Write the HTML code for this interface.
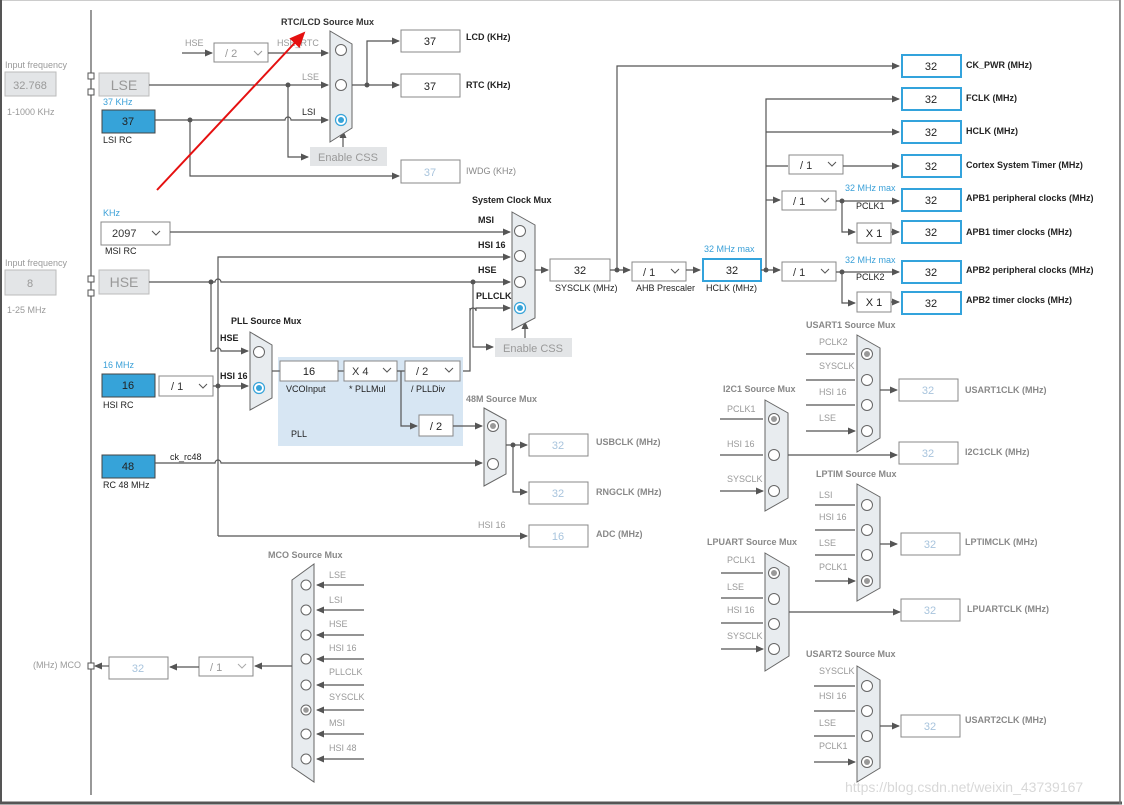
<!DOCTYPE html>
<html><head><meta charset="utf-8"><style>
html,body{margin:0;padding:0;background:#fff;}
svg{display:block;font-family:"Liberation Sans",Arial,sans-serif;}
.l{stroke:#555;stroke-width:1.2;fill:none}
.la{stroke:#555;stroke-width:1.2;fill:none;marker-end:url(#a)}
.lg{stroke:#888;stroke-width:1.2;fill:none;marker-end:url(#a)}
.t{font-size:9px;fill:#222;font-weight:bold}
.tg{font-size:9px;fill:#888;font-weight:bold}
.tn{font-size:9px;fill:#999}
.tb{font-size:9px;fill:#3aa0d8}
.box{fill:#fff;stroke:#888;stroke-width:1}
.bb{fill:#fff;stroke:#33a3dc;stroke-width:2}
.dis{fill:#e3e5e7;stroke:#bbb;stroke-width:1}
.mux{fill:#e8ecef;stroke:#666;stroke-width:1}
.c{fill:#fff;stroke:#666;stroke-width:1}
.num{font-size:11px;fill:#222;text-anchor:middle}
.numg{font-size:11px;fill:#a8c4dd;text-anchor:middle}
.dd{font-size:11px;fill:#333}
.dot{fill:#555}
</style></head><body>
<svg width="1124" height="805" viewBox="0 0 1124 805">
<defs>
<marker id="a" markerWidth="8" markerHeight="8" refX="7" refY="4" orient="auto" markerUnits="userSpaceOnUse"><path d="M0,0.5 L8,4 L0,7.5 z" fill="#555"/></marker>
<marker id="r" markerWidth="16" markerHeight="14" refX="14" refY="7" orient="auto" markerUnits="userSpaceOnUse"><path d="M0,0 L16,7 L0,14 z" fill="#e51010"/></marker>
</defs>
<rect x="0.5" y="0.5" width="1119" height="802" fill="none" stroke="#ccc"/>
<line x1="1" y1="0" x2="1" y2="804" stroke="#555" stroke-width="2"/>
<line x1="0" y1="803" x2="1122" y2="803" stroke="#555" stroke-width="3"/>
<line x1="1120" y1="0" x2="1120" y2="804" stroke="#777" stroke-width="1.5"/>

<!-- left panel -->
<line x1="91" y1="10" x2="91" y2="795" stroke="#555" stroke-width="1.2"/>
<text x="5" y="68" class="tn">Input frequency</text>
<rect x="5" y="72" width="51" height="24" class="dis" stroke="#999"/>
<text x="30" y="89" class="numg" fill="#999" style="fill:#999">32.768</text>
<text x="7" y="115" class="tn">1-1000 KHz</text>
<text x="5" y="266" class="tn">Input frequency</text>
<rect x="5" y="270" width="51" height="25" class="dis" stroke="#999"/>
<text x="30" y="287" class="num" style="fill:#999">8</text>
<text x="7" y="313" class="tn">1-25 MHz</text>
<rect x="88" y="73" width="6" height="6" fill="#fff" stroke="#555"/>
<rect x="88" y="89" width="6" height="6" fill="#fff" stroke="#555"/>
<rect x="88" y="276" width="6" height="6" fill="#fff" stroke="#555"/>
<rect x="88" y="290" width="6" height="6" fill="#fff" stroke="#555"/>
<rect x="99" y="73" width="50" height="23" class="dis" stroke="#999"/>
<text x="124" y="90" style="font-size:14px;fill:#999;text-anchor:middle">LSE</text>
<rect x="99" y="270" width="50" height="24" class="dis" stroke="#999"/>
<text x="124" y="287" style="font-size:14px;fill:#999;text-anchor:middle">HSE</text>
<text x="103" y="105" class="tb">37 KHz</text>
<rect x="102" y="110" width="53" height="23" fill="#36a3d9" stroke="#444"/>
<text x="128" y="125" class="num">37</text>
<text x="103" y="143" style="font-size:9px;fill:#222">LSI RC</text>
<text x="103" y="216" class="tb">KHz</text>
<rect x="101" y="222" width="69" height="23" class="box"/>
<text x="112" y="237" class="dd">2097</text><path d="M152,231 l4,4 l4,-4" stroke="#555" fill="none"/>
<text x="105" y="254" style="font-size:9px;fill:#222">MSI RC</text>
<text x="103" y="368" class="tb">16 MHz</text>
<rect x="102" y="374" width="53" height="23" fill="#36a3d9" stroke="#444"/>
<text x="128" y="389" class="num">16</text>
<text x="103" y="408" style="font-size:9px;fill:#222">HSI RC</text>
<rect x="159" y="376" width="54" height="20" class="box"/>
<text x="171" y="390" class="dd">/ 1</text><path d="M199,384 l4,4 l4,-4" stroke="#555" fill="none"/>
<rect x="102" y="455" width="53" height="23" fill="#36a3d9" stroke="#444"/>
<text x="128" y="470" class="num">48</text>
<text x="103" y="488" style="font-size:9px;fill:#222">RC 48 MHz</text>
<text x="170" y="460" style="font-size:9px;fill:#222">ck_rc48</text>

<!-- RTC mux -->
<text x="281" y="25" class="t" style="fill:#333">RTC/LCD Source Mux</text>
<text x="185" y="46" class="tn">HSE</text>
<path d="M182,53 H212" class="la"/>
<rect x="214" y="43" width="54" height="19" class="box"/>
<text x="225" y="57" style="font-size:11px;fill:#999">/ 2</text><path d="M254,51 l4,4 l4,-4" stroke="#999" fill="none"/>
<text x="277" y="46" class="tn">HSE_RTC</text>
<path d="M268,53 H328" class="la"/>
<path d="M149,85 H328" class="la"/>
<circle cx="288" cy="85" r="2.5" class="dot"/>
<text x="302" y="80" class="tn">LSE</text>
<path d="M155,120 H285 a3,3 0 0 1 6,0 H328" class="la"/>
<circle cx="190" cy="120" r="2.5" class="dot"/>
<text x="302" y="115" style="font-size:9px;fill:#222">LSI</text>
<path d="M288,85 V157 H308" class="la"/>
<rect x="310" y="147" width="77" height="19" fill="#e3e5e7"/>
<text x="348" y="161" style="font-size:11px;fill:#999;text-anchor:middle">Enable CSS</text>
<path d="M343,147 V131" class="la"/>
<path d="M190,120 V176 H399" class="la"/>
<rect x="401" y="160" width="59" height="23" class="box"/>
<text x="430" y="176" class="numg">37</text>
<text x="466" y="174" class="tg" style="font-weight:normal">IWDG (KHz)</text>
<polygon points="330,31 352,44 352,128 330,142" class="mux"/>
<circle cx="341" cy="50" r="5.5" class="c"/>
<circle cx="341" cy="85" r="5.5" class="c"/>
<circle cx="341" cy="120" r="5.5" fill="#fff" stroke="#36a3d9" stroke-width="1.2"/><circle cx="341" cy="120" r="3" fill="#36a3d9"/>
<path d="M352,85 H399" class="la"/>
<circle cx="367" cy="85" r="2.5" class="dot"/>
<path d="M367,85 V41 H399" class="la"/>
<rect x="401" y="30" width="59" height="22" class="box"/>
<text x="430" y="45" class="num">37</text>
<text x="466" y="40" class="t">LCD (KHz)</text>
<rect x="401" y="74" width="59" height="23" class="box"/>
<text x="430" y="90" class="num">37</text>
<text x="466" y="88" class="t">RTC (KHz)</text>

<!-- red arrow -->
<line x1="157" y1="190" x2="304" y2="33" stroke="#e51010" stroke-width="2" marker-end="url(#r)"/>

<!-- System clock mux -->
<text x="472" y="203" class="t">System Clock Mux</text>
<text x="478" y="223" class="t">MSI</text>
<text x="478" y="248" class="t">HSI 16</text>
<text x="478" y="273" class="t">HSE</text>
<text x="476" y="299" class="t">PLLCLK</text>
<path d="M170,232 H510" class="la"/>
<path d="M218,536 V257 H510" class="la"/>
<path d="M149,282 H215 a3,3 0 0 1 6,0 H510" class="la"/>
<circle cx="211" cy="282" r="2.5" class="dot"/>
<circle cx="473" cy="282" r="2.5" class="dot"/>
<path d="M473,282 V347 H493" class="la"/>
<path d="M460,371 H470 V311 a3,3 0 0 1 6,0 V308 H510" class="la"/>
<path d="M470,311 V308" class="l"/>
<rect x="495" y="338" width="77" height="19" fill="#e3e5e7"/>
<text x="533" y="352" style="font-size:11px;fill:#999;text-anchor:middle">Enable CSS</text>
<path d="M525,338 V322" class="la"/>
<polygon points="512,212 535,225 535,318 512,330" class="mux"/>
<circle cx="520" cy="231" r="5.5" class="c"/>
<circle cx="520" cy="256" r="5.5" class="c"/>
<circle cx="520" cy="282" r="5.5" class="c" stroke="#999"/>
<circle cx="520" cy="308" r="5.5" fill="#fff" stroke="#36a3d9" stroke-width="1.2"/><circle cx="520" cy="308" r="3" fill="#36a3d9"/>
<path d="M535,270 H548" class="la"/>
<rect x="550" y="259" width="60" height="22" class="box"/>
<text x="580" y="274" class="num">32</text>
<text x="555" y="291" style="font-size:9px;fill:#222">SYSCLK (MHz)</text>
<path d="M610,270 H630" class="la"/>
<circle cx="617" cy="270" r="2.5" class="dot"/>
<path d="M617,270 V66 H899" class="la"/>
<rect x="632" y="262" width="54" height="19" class="box"/>
<text x="643" y="276" class="dd">/ 1</text><path d="M671,269 l4,4 l4,-4" stroke="#555" fill="none"/>
<text x="636" y="291" style="font-size:9px;fill:#222">AHB Prescaler</text>
<path d="M686,270 H700" class="la"/>
<text x="704" y="252" class="tb">32 MHz max</text>
<rect x="703" y="259" width="58" height="22" class="bb"/>
<text x="732" y="274" class="num">32</text>
<text x="706" y="291" style="font-size:9px;fill:#222">HCLK (MHz)</text>
<path d="M761,270 H780" class="la"/>
<circle cx="766" cy="270" r="2.5" class="dot"/>
<path d="M766,270 V99 H899" class="la"/>
<path d="M766,132 H899" class="la"/>
<path d="M766,166 H788" class="l"/>
<rect x="789" y="155" width="54" height="19" class="box"/>
<text x="800" y="169" class="dd">/ 1</text><path d="M828,162 l4,4 l4,-4" stroke="#555" fill="none"/>
<path d="M843,166 H899" class="la"/>
<path d="M766,200 H780" class="la"/>
<rect x="782" y="191" width="54" height="19" class="box"/>
<text x="793" y="205" class="dd">/ 1</text><path d="M821,198 l4,4 l4,-4" stroke="#555" fill="none"/>
<path d="M836,201 H899" class="la"/>
<circle cx="842" cy="201" r="2.5" class="dot"/>
<path d="M842,201 V232 H855" class="la"/>
<rect x="857" y="223" width="34" height="20" class="box"/>
<text x="874" y="237" class="num">X 1</text>
<path d="M891,232 H899" class="la"/>
<rect x="782" y="262" width="54" height="19" class="box"/>
<text x="793" y="276" class="dd">/ 1</text><path d="M821,269 l4,4 l4,-4" stroke="#555" fill="none"/>
<path d="M836,272 H899" class="la"/>
<circle cx="842" cy="272" r="2.5" class="dot"/>
<path d="M842,272 V303 H855" class="la"/>
<rect x="857" y="292" width="34" height="20" class="box"/>
<text x="874" y="306" class="num">X 1</text>
<path d="M891,302 H899" class="la"/>
<text x="845" y="191" class="tb">32 MHz max</text>
<text x="845" y="263" class="tb">32 MHz max</text>
<text x="856" y="209" style="font-size:9px;fill:#222">PCLK1</text>
<text x="856" y="280" style="font-size:9px;fill:#222">PCLK2</text>
<g>
<rect x="902" y="55" width="59" height="22" class="bb"/><text x="931" y="70" class="num">32</text>
<rect x="902" y="88" width="59" height="22" class="bb"/><text x="931" y="103" class="num">32</text>
<rect x="902" y="121" width="59" height="22" class="bb"/><text x="931" y="136" class="num">32</text>
<rect x="902" y="155" width="59" height="22" class="bb"/><text x="931" y="170" class="num">32</text>
<rect x="902" y="189" width="59" height="22" class="bb"/><text x="931" y="204" class="num">32</text>
<rect x="902" y="221" width="59" height="22" class="bb"/><text x="931" y="236" class="num">32</text>
<rect x="902" y="261" width="59" height="22" class="bb"/><text x="931" y="276" class="num">32</text>
<rect x="902" y="292" width="59" height="22" class="bb"/><text x="931" y="307" class="num">32</text>
</g>
<text x="966" y="68" class="t">CK_PWR (MHz)</text>
<text x="966" y="101" class="t">FCLK (MHz)</text>
<text x="966" y="134" class="t">HCLK (MHz)</text>
<text x="966" y="168" class="t">Cortex System Timer (MHz)</text>
<text x="966" y="201" class="t">APB1 peripheral clocks (MHz)</text>
<text x="966" y="235" class="t">APB1 timer clocks (MHz)</text>
<text x="966" y="273" class="t">APB2 peripheral clocks (MHz)</text>
<text x="966" y="303" class="t">APB2 timer clocks (MHz)</text>

<!-- PLL -->
<rect x="278" y="357" width="185" height="89" fill="#d7e6f3"/>
<text x="231" y="324" class="t">PLL Source Mux</text>
<text x="220" y="341" class="t">HSE</text>
<text x="220" y="379" class="t">HSI 16</text>
<path d="M211,282 V351 H215 a3,3 0 0 1 6,0 H248" class="la"/>
<path d="M213,386 H248" class="la"/>
<circle cx="218" cy="386" r="2.5" class="dot"/>
<polygon points="250,332 272,345 272,398 250,410" class="mux"/>
<circle cx="259" cy="352" r="5.5" class="c"/>
<circle cx="259" cy="388" r="5.5" fill="#fff" stroke="#36a3d9" stroke-width="1.2"/><circle cx="259" cy="388" r="3" fill="#36a3d9"/>
<path d="M272,371 H280" class="l"/>
<rect x="280" y="361" width="58" height="20" class="box"/>
<text x="309" y="375" class="num">16</text>
<text x="286" y="392" style="font-size:9px;fill:#222">VCOInput</text>
<path d="M338,371 H344" class="l"/>
<rect x="344" y="361" width="53" height="20" class="box"/>
<text x="352" y="375" class="dd">X 4</text><path d="M383,368 l4,4 l4,-4" stroke="#555" fill="none"/>
<text x="349" y="392" style="font-size:9px;fill:#222">* PLLMul</text>
<path d="M397,371 H405 M401,371 V426 H417" class="la"/>
<rect x="405" y="361" width="55" height="20" class="box"/>
<text x="416" y="375" class="dd">/ 2</text><path d="M445,368 l4,4 l4,-4" stroke="#555" fill="none"/>
<text x="411" y="392" style="font-size:9px;fill:#222">/ PLLDiv</text>
<rect x="419" y="415" width="34" height="21" class="box"/>
<text x="436" y="430" class="num">/ 2</text>
<text x="291" y="437" style="font-size:9px;fill:#222">PLL</text>
<path d="M453,426 H482" class="la"/>

<!-- 48M -->
<text x="466" y="402" class="tg">48M Source Mux</text>
<path d="M155,463 H215 a3,3 0 0 1 6,0 H482" class="la"/>
<polygon points="484,408 506,420 506,474 484,486" class="mux"/>
<circle cx="493" cy="426" r="5.5" class="c" stroke="#999"/><circle cx="493" cy="426" r="3" fill="#999"/>
<circle cx="493" cy="464" r="5.5" class="c" stroke="#999"/>
<path d="M506,445 H527" class="la"/>
<circle cx="513" cy="445" r="2.5" class="dot"/>
<path d="M513,445 V492 H527" class="la"/>
<rect x="529" y="434" width="59" height="22" class="box" stroke="#aaa"/><text x="558" y="449" class="numg">32</text>
<text x="596" y="445" class="tg">USBCLK (MHz)</text>
<rect x="529" y="482" width="59" height="22" class="box" stroke="#aaa"/><text x="558" y="497" class="numg">32</text>
<text x="596" y="495" class="tg">RNGCLK (MHz)</text>
<path d="M218,536 H527" class="la"/>
<text x="478" y="528" class="tn">HSI 16</text>
<rect x="529" y="525" width="59" height="22" class="box" stroke="#aaa"/><text x="558" y="540" class="numg">16</text>
<text x="596" y="537" class="tg">ADC (MHz)</text>

<!-- MCO -->
<text x="268" y="558" class="tg">MCO Source Mux</text>
<polygon points="292,580 314,564 314,782 292,767" class="mux"/>
<g>
<circle cx="306" cy="585" r="5" class="c" stroke="#999"/>
<circle cx="306" cy="610" r="5" class="c" stroke="#999"/>
<circle cx="306" cy="635" r="5" class="c" stroke="#999"/>
<circle cx="306" cy="659" r="5" class="c" stroke="#999"/>
<circle cx="306" cy="685" r="5" class="c" stroke="#999"/>
<circle cx="306" cy="710" r="5" class="c" stroke="#999"/><circle cx="306" cy="710" r="2.8" fill="#999"/>
<circle cx="306" cy="734" r="5" class="c" stroke="#999"/>
<circle cx="306" cy="759" r="5" class="c" stroke="#999"/>
</g>
<g class="tn">
<text x="329" y="578">LSE</text><text x="329" y="603">LSI</text><text x="329" y="627">HSE</text><text x="329" y="651">HSI 16</text>
<text x="329" y="675">PLLCLK</text><text x="329" y="700">SYSCLK</text><text x="329" y="726">MSI</text><text x="329" y="751">HSI 48</text>
</g>
<path d="M364,585 H317 M364,610 H317 M364,635 H317 M364,659 H317 M364,685 H317 M364,710 H317 M364,734 H317 M364,759 H317" class="l"/>
<g fill="#555"><path d="M316,585 l8,-3.5 v7z"/><path d="M316,610 l8,-3.5 v7z"/><path d="M316,635 l8,-3.5 v7z"/><path d="M316,659 l8,-3.5 v7z"/><path d="M316,685 l8,-3.5 v7z"/><path d="M316,710 l8,-3.5 v7z"/><path d="M316,734 l8,-3.5 v7z"/><path d="M316,759 l8,-3.5 v7z"/></g>
<path d="M292,666 H255" class="la"/>
<rect x="199" y="657" width="54" height="19" class="box"/>
<text x="210" y="671" style="font-size:11px;fill:#999">/ 1</text><path d="M238,664 l4,4 l4,-4" stroke="#aaa" fill="none"/>
<path d="M199,667 H170" class="la"/>
<rect x="109" y="657" width="59" height="22" class="box"/><text x="138" y="672" class="numg">32</text>
<path d="M109,666 H95" class="la"/>
<rect x="88" y="663" width="6" height="6" fill="#fff" stroke="#555"/>
<text x="33" y="668" class="tn">(MHz) MCO</text>

<!-- USART1 -->
<text x="806" y="328" class="tg">USART1 Source Mux</text>
<polygon points="857,335 880,348 880,438 857,452" class="mux"/>
<circle cx="867" cy="354" r="5.5" class="c" stroke="#999"/><circle cx="867" cy="354" r="3" fill="#999"/>
<circle cx="867" cy="380" r="5.5" class="c" stroke="#999"/>
<circle cx="867" cy="405" r="5.5" class="c" stroke="#999"/>
<circle cx="867" cy="431" r="5.5" class="c" stroke="#999"/>
<g class="tn"><text x="819" y="345">PCLK2</text><text x="819" y="369">SYSCLK</text><text x="819" y="395">HSI 16</text><text x="819" y="421">LSE</text></g>
<path d="M806,354 H855 M806,380 H855 M806,405 H855 M806,431 H855" class="la"/>
<path d="M880,390 H897" class="la"/>
<rect x="899" y="379" width="59" height="22" class="box" stroke="#aaa"/><text x="928" y="394" class="numg">32</text>
<text x="965" y="393" class="tg">USART1CLK (MHz)</text>

<!-- I2C1 -->
<text x="723" y="392" class="tg">I2C1 Source Mux</text>
<polygon points="765,400 788,413 788,498 765,511" class="mux"/>
<circle cx="774" cy="419" r="5.5" class="c" stroke="#999"/><circle cx="774" cy="419" r="3" fill="#999"/>
<circle cx="774" cy="455" r="5.5" class="c" stroke="#999"/>
<circle cx="774" cy="491" r="5.5" class="c" stroke="#999"/>
<g class="tn"><text x="727" y="412">PCLK1</text><text x="727" y="447">HSI 16</text><text x="727" y="482">SYSCLK</text></g>
<path d="M720,419 H763 M720,455 H763 M720,491 H763" class="la"/>
<path d="M788,455 H897" class="la"/>
<rect x="899" y="442" width="59" height="22" class="box" stroke="#aaa"/><text x="928" y="457" class="numg">32</text>
<text x="965" y="455" class="tg">I2C1CLK (MHz)</text>

<!-- LPTIM -->
<text x="816" y="477" class="tg">LPTIM Source Mux</text>
<polygon points="857,484 880,497 880,588 857,601" class="mux"/>
<circle cx="867" cy="505" r="5.5" class="c" stroke="#999"/>
<circle cx="867" cy="530" r="5.5" class="c" stroke="#999"/>
<circle cx="867" cy="555" r="5.5" class="c" stroke="#999"/>
<circle cx="867" cy="581" r="5.5" class="c" stroke="#999"/><circle cx="867" cy="581" r="3" fill="#999"/>
<g class="tn"><text x="819" y="498">LSI</text><text x="819" y="520">HSI 16</text><text x="819" y="546">LSE</text><text x="819" y="570">PCLK1</text></g>
<path d="M815,505 H855 M815,530 H855 M815,555 H855 M815,581 H855" class="la"/>
<path d="M880,544 H897" class="la"/>
<rect x="901" y="533" width="59" height="22" class="box" stroke="#aaa"/><text x="930" y="548" class="numg">32</text>
<text x="965" y="545" class="tg">LPTIMCLK (MHz)</text>

<!-- LPUART -->
<text x="707" y="545" class="tg">LPUART Source Mux</text>
<polygon points="765,553 789,567 789,656 765,671" class="mux"/>
<circle cx="774" cy="573" r="5.5" class="c" stroke="#999"/><circle cx="774" cy="573" r="3" fill="#999"/>
<circle cx="774" cy="599" r="5.5" class="c" stroke="#999"/>
<circle cx="774" cy="624" r="5.5" class="c" stroke="#999"/>
<circle cx="774" cy="649" r="5.5" class="c" stroke="#999"/>
<g class="tn"><text x="727" y="563">PCLK1</text><text x="727" y="590">LSE</text><text x="727" y="613">HSI 16</text><text x="727" y="639">SYSCLK</text></g>
<path d="M721,573 H763 M721,598 H763 M721,623 H763 M721,649 H763" class="la"/>
<path d="M789,612 H900" class="la"/>
<rect x="901" y="599" width="59" height="22" class="box" stroke="#aaa"/><text x="930" y="614" class="numg">32</text>
<text x="967" y="612" class="tg">LPUARTCLK (MHz)</text>

<!-- USART2 -->
<text x="806" y="657" class="tg">USART2 Source Mux</text>
<polygon points="857,666 880,680 880,768 857,782" class="mux"/>
<circle cx="867" cy="686" r="5.5" class="c" stroke="#999"/>
<circle cx="867" cy="711" r="5.5" class="c" stroke="#999"/>
<circle cx="867" cy="736" r="5.5" class="c" stroke="#999"/>
<circle cx="867" cy="762" r="5.5" class="c" stroke="#999"/><circle cx="867" cy="762" r="3" fill="#999"/>
<g class="tn"><text x="819" y="674">SYSCLK</text><text x="819" y="699">HSI 16</text><text x="819" y="726">LSE</text><text x="819" y="749">PCLK1</text></g>
<path d="M814,686 H855 M814,711 H855 M814,736 H855 M814,762 H855" class="la"/>
<path d="M880,726 H899" class="la"/>
<rect x="901" y="715" width="59" height="22" class="box" stroke="#aaa"/><text x="930" y="730" class="numg">32</text>
<text x="965" y="723" class="tg">USART2CLK (MHz)</text>

<text x="845" y="792" style="font-size:14px;fill:#d8d8d8">https://blog.csdn.net/weixin_43739167</text>
</svg>
</body></html>
